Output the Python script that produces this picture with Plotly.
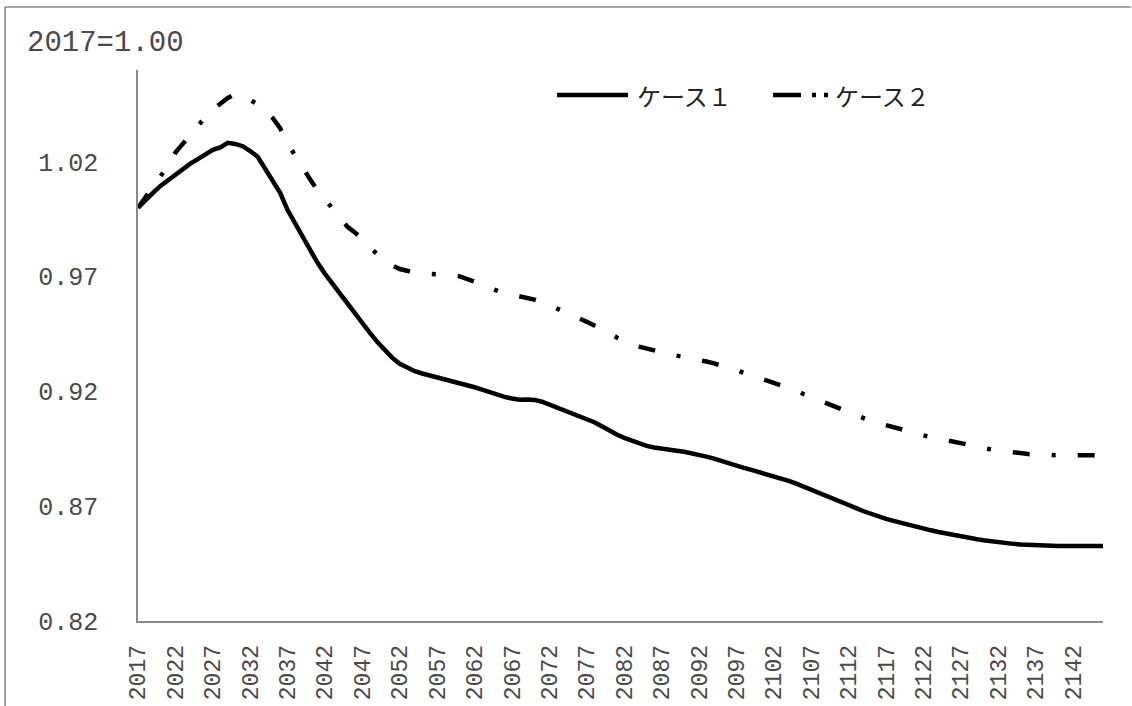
import plotly.graph_objects as go

# Years on the horizontal axis (annual, 2017 .. 2146)
years = list(range(2017, 2147))

# Index values, 2017 = 1.00
case1 = [
    1.0000, 1.0035, 1.0065, 1.0095, 1.0120, 1.0145, 1.0170, 1.0192, 1.0212, 1.0235,  # 2017-2026
    1.0252, 1.0263, 1.0283, 1.0278, 1.0268, 1.0247, 1.0222, 1.0170, 1.0118, 1.0065,  # 2027-2036
    0.9990, 0.9933, 0.9875, 0.9812, 0.9760, 0.9712, 0.9668, 0.9625, 0.9580, 0.9540,  # 2037-2046
    0.9500, 0.9455, 0.9415, 0.9378, 0.9346, 0.9320, 0.9302, 0.9288, 0.9278, 0.9270,  # 2047-2056
    0.9262, 0.9253, 0.9244, 0.9236, 0.9228, 0.9218, 0.9208, 0.9196, 0.9186, 0.9176,  # 2057-2066
    0.9169, 0.9164, 0.9165, 0.9163, 0.9155, 0.9143, 0.9130, 0.9118, 0.9105, 0.9092,  # 2067-2076
    0.9080, 0.9066, 0.9048, 0.9028, 0.9012, 0.8998, 0.8985, 0.8973, 0.8963, 0.8956,  # 2077-2086
    0.8950, 0.8946, 0.8942, 0.8937, 0.8931, 0.8924, 0.8916, 0.8907, 0.8896, 0.8884,  # 2087-2096
    0.8876, 0.8867, 0.8858, 0.8849, 0.8840, 0.8830, 0.8820, 0.8810, 0.8798, 0.8785,  # 2097-2106
    0.8772, 0.8760, 0.8747, 0.8736, 0.8722, 0.8706, 0.8692, 0.8678, 0.8666, 0.8655,  # 2107-2116
    0.8645, 0.8636, 0.8627, 0.8619, 0.8610, 0.8602, 0.8595, 0.8588, 0.8581, 0.8574,  # 2117-2126
    0.8568, 0.8562, 0.8557, 0.8552, 0.8547, 0.8543, 0.8539, 0.8536, 0.8533, 0.8531,  # 2127-2136
    0.8529, 0.8528, 0.8527, 0.8527, 0.8527, 0.8527, 0.8527, 0.8527, 0.8527, 0.8527,  # 2137-2146
]

case2 = [
    1.0000, 1.0045, 1.0090, 1.0130, 1.0182, 1.0240, 1.0278, 1.0320, 1.0360, 1.0395,  # 2017-2026
    1.0428, 1.0455, 1.0478, 1.0495, 1.0488, 1.0470, 1.0450, 1.0422, 1.0391, 1.0347,  # 2027-2036
    1.0280, 1.0228, 1.0172, 1.0124, 1.0076, 1.0035, 0.9996, 0.9956, 0.9917, 0.9892,  # 2037-2046
    0.9866, 0.9830, 0.9796, 0.9770, 0.9748, 0.9733, 0.9724, 0.9717, 0.9714, 0.9713,  # 2047-2056
    0.9712, 0.9710, 0.9706, 0.9701, 0.9690, 0.9678, 0.9666, 0.9650, 0.9637, 0.9628,  # 2057-2066
    0.9621, 0.9615, 0.9609, 0.9600, 0.9590, 0.9576, 0.9561, 0.9548, 0.9535, 0.9520,  # 2067-2076
    0.9503, 0.9487, 0.9472, 0.9455, 0.9435, 0.9418, 0.9405, 0.9395, 0.9386, 0.9378,  # 2077-2086
    0.9370, 0.9362, 0.9356, 0.9350, 0.9345, 0.9338, 0.9330, 0.9322, 0.9313, 0.9303,  # 2087-2096
    0.9292, 0.9281, 0.9270, 0.9262, 0.9251, 0.9240, 0.9228, 0.9216, 0.9203, 0.9188,  # 2097-2106
    0.9175, 0.9160, 0.9148, 0.9138, 0.9124, 0.9109, 0.9095, 0.9083, 0.9071, 0.9062,  # 2107-2116
    0.9053, 0.9042, 0.9033, 0.9024, 0.9015, 0.9007, 0.9000, 0.8994, 0.8988, 0.8982,  # 2117-2126
    0.8976, 0.8968, 0.8959, 0.8952, 0.8946, 0.8942, 0.8939, 0.8934, 0.8930, 0.8927,  # 2127-2136
    0.8925, 0.8923, 0.8922, 0.8922, 0.8922, 0.8922, 0.8922, 0.8922, 0.8922, 0.8922,  # 2137-2146
]

series_names = ["ケース１", "ケース２"]
y_ticks = [0.82, 0.87, 0.92, 0.97, 1.02]
x_ticks = years[::5]
base_label = "2017=1.00"

# ---- layout geometry (pixels) ----
W, H = 1132, 706
ML, MR, MT, MB = 138, 29, 70, 85
PW, PH = W - ML - MR, H - MT - MB


def px(x):
    return (x - ML) / PW


def py(y):
    return (H - MB - y) / PH


AXIS_GRAY = "#8a8a8a"
TEXT = "#4a4a4a"
MONO = "Liberation Mono, Courier New, monospace"
JP = "Noto Sans CJK JP, sans-serif"
DASHDOT = "17px,22px,4px,22px"

fig = go.Figure()
fig.add_trace(go.Scatter(
    x=years, y=case1, mode="lines", name=series_names[0],
    line=dict(color="black", width=4.5), showlegend=False,
))
fig.add_trace(go.Scatter(
    x=years, y=case2, mode="lines", name=series_names[1],
    line=dict(color="black", width=4.5, dash=DASHDOT), showlegend=False,
))

fig.update_layout(
    width=W, height=H,
    margin=dict(l=ML, r=MR, t=MT, b=MB, pad=0, autoexpand=False),
    paper_bgcolor="white", plot_bgcolor="white",
    xaxis=dict(
        range=[years[0], years[-1]], tickvals=x_ticks,
        ticktext=[str(v) for v in x_ticks], tickangle=-90,
        showgrid=False, zeroline=False, showline=True,
        linecolor=AXIS_GRAY, linewidth=1.6, ticks="",
        tickfont=dict(family=MONO, size=23, color=TEXT),
        ticklabelstandoff=13, automargin=False,
    ),
    yaxis=dict(
        range=[0.82, 1.06], tickvals=y_ticks,
        ticktext=[f"{v:.2f}" for v in y_ticks],
        showgrid=False, zeroline=False, showline=True,
        linecolor=AXIS_GRAY, linewidth=1.6, ticks="",
        tickfont=dict(family=MONO, size=25, color=TEXT),
        ticklabelstandoff=33, automargin=False,
    ),
)

# outer chart frame: only its left and top edges lie on the page
fig.add_shape(type="line", xref="paper", yref="paper",
              x0=px(5), x1=px(5), y0=py(H), y1=py(7),
              line=dict(color=AXIS_GRAY, width=1.6), layer="below")
fig.add_shape(type="line", xref="paper", yref="paper",
              x0=px(5), x1=px(W - 1), y0=py(7), y1=py(7),
              line=dict(color=AXIS_GRAY, width=1.6), layer="below")

# base-year note
fig.add_annotation(xref="paper", yref="paper", x=px(25), y=py(43),
                   xanchor="left", yanchor="middle", showarrow=False,
                   text=base_label, font=dict(family=MONO, size=29, color=TEXT))

# legend
LEG_Y = 95
fig.add_shape(type="line", xref="paper", yref="paper",
              x0=px(557), x1=px(628), y0=py(LEG_Y), y1=py(LEG_Y),
              line=dict(color="black", width=4.5))
fig.add_annotation(xref="paper", yref="paper", x=px(635), y=py(LEG_Y),
                   xanchor="left", yanchor="middle", showarrow=False,
                   text=series_names[0], font=dict(family=JP, size=24, color="#222222"))
fig.add_shape(type="line", xref="paper", yref="paper",
              x0=px(773), x1=px(832), y0=py(LEG_Y), y1=py(LEG_Y),
              line=dict(color="black", width=4.5, dash="28px,11px,4px,8px,4px,40px"))
fig.add_annotation(xref="paper", yref="paper", x=px(833), y=py(LEG_Y),
                   xanchor="left", yanchor="middle", showarrow=False,
                   text=series_names[1], font=dict(family=JP, size=24, color="#222222"))

fig.write_html("out.html")
